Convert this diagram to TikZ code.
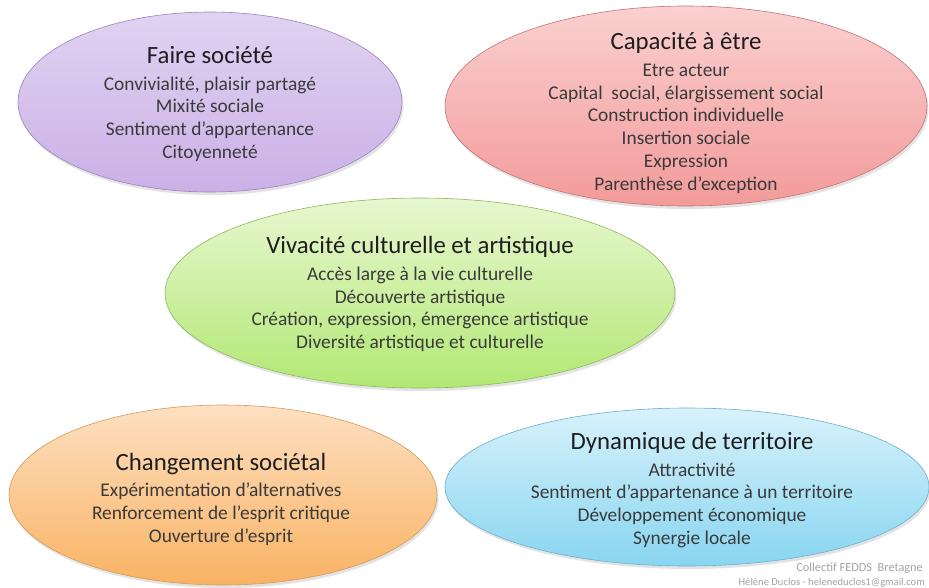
\documentclass[tikz,border=0pt]{standalone}
\usepackage{fontspec}
\setmainfont{Carlito}
\usetikzlibrary{shapes.geometric,shadows}
\definecolor{purpletop}{HTML}{E0D3F2}
\definecolor{purplebot}{HTML}{CBB0E6}
\definecolor{purpleedge}{HTML}{9C82BC}
\definecolor{redtop}{HTML}{FAD0D0}
\definecolor{redbot}{HTML}{F39A9A}
\definecolor{rededge}{HTML}{C27474}
\definecolor{greentop}{HTML}{E8F7D0}
\definecolor{greenbot}{HTML}{B2E874}
\definecolor{greenedge}{HTML}{8DB85A}
\definecolor{orangetop}{HTML}{FDE0C2}
\definecolor{orangebot}{HTML}{F9B263}
\definecolor{orangeedge}{HTML}{D49A5E}
\definecolor{bluetop}{HTML}{D8F2FB}
\definecolor{bluebot}{HTML}{88D5F0}
\definecolor{blueedge}{HTML}{6BAFC9}
\definecolor{bodygray}{HTML}{3A3A3A}
\definecolor{titlegray}{HTML}{1E1E1E}
\definecolor{creditgray}{HTML}{A2A2A2}
\newcommand{\ovaltitle}[1]{{\fontsize{24.8}{26}\selectfont\color{titlegray}#1}}

\begin{document}
\begin{tikzpicture}[
    x=1pt, y=-1pt,
    oval/.style={ellipse, line width=0.6pt, inner sep=0pt,
        top color=#1top, bottom color=#1bot, draw=#1edge,
        drop shadow={opacity=0.22, shadow xshift=1.5pt, shadow yshift=-3pt}},
    ovaltext/.style={align=center, inner sep=0pt, text=bodygray, font=\fontsize{19.4}{22.7}\selectfont},
    credit/.style={anchor=east, inner sep=0pt, text=creditgray}
]
\useasboundingbox (0,0) rectangle (929,587);

\node[oval=purple, minimum width=384pt, minimum height=180pt] (societe) at (210,102) {};
\node[ovaltext] (societetxt) at ([yshift=-2pt]societe.center) {\ovaltitle{Faire société}\\[4pt]
    Convivialité, plaisir partagé\\ Mixité sociale\\ Sentiment d’appartenance\\ Citoyenneté};

\node[oval=red, minimum width=482pt, minimum height=200pt] (capacite) at (686,106) {};
\node[ovaltext] (capacitetxt) at ([yshift=-7pt]capacite.center) {\ovaltitle{Capacité à être}\\[4pt]
    Etre acteur\\ Capital\ \ social, élargissement social\\ Construction individuelle\\
    Insertion sociale\\ Expression\\ Parenthèse d’exception};

\node[oval=green, minimum width=510pt, minimum height=190pt] (vivacite) at (420,293) {};
\node[ovaltext] (vivacitetxt) at ([yshift=-1pt]vivacite.center) {\ovaltitle{Vivacité culturelle et artistique}\\[4pt]
    Accès large à la vie culturelle\\ Découverte artistique\\
    Création, expression, émergence artistique\\ Diversité artistique et culturelle};

\node[oval=orange, minimum width=428pt, minimum height=180pt] (changement) at (223,495) {};
\node[ovaltext] (changementtxt) at ([xshift=-2pt,yshift=-4pt]changement.center) {\ovaltitle{Changement sociétal}\\[4pt]
    Expérimentation d’alternatives\\ Renforcement de l’esprit critique\\ Ouverture d’esprit};

\node[oval=blue, minimum width=484pt, minimum height=158pt] (dynamique) at (687,487) {};
\node[ovaltext] (dynamiquetxt) at ([xshift=5pt,yshift=-3pt]dynamique.center) {\ovaltitle{Dynamique de territoire}\\[4pt]
    Attractivité\\ Sentiment d’appartenance à un territoire\\ Développement économique\\ Synergie locale};

\node[credit, font=\fontsize{12.3}{14}\selectfont] (collectif) at (923,568) {Collectif FEDDS\ \ Bretagne};
\node[credit, font=\fontsize{10.6}{12}\selectfont] (auteur) at (925,583) {Hélène Duclos - heleneduclos1@gmail.com};

\end{tikzpicture}
\end{document}
